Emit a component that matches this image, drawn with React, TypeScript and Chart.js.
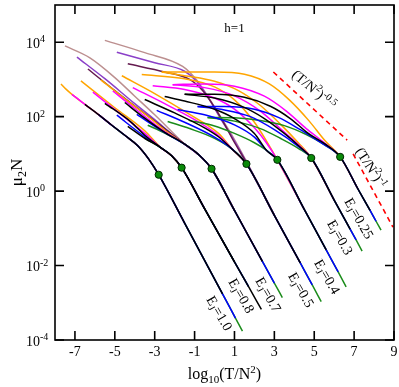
import React, { useEffect, useRef } from "react";
import { Chart, registerables } from "chart.js";

Chart.register(...registerables);

type Pt = [number, number]; // [log10(T/N^2), log10(mu2 N)]
type Branch = [string, Pt[], number]; // colour key, own points before joining the family curve, last x drawn

const X_MIN = -8;
const X_MAX = 9;
const Y_MIN_EXP = -4;
const Y_MAX_EXP = 5;
const X_TICKS = [-7, -5, -3, -1, 1, 3, 5, 7, 9];
const Y_TICK_EXPONENTS = [-4, -2, 0, 2, 4];

const EJ_LABELS = ["1.0", "0.8", "0.7", "0.5", "0.4", "0.3", "0.25"];
const EJ_LABEL_X = [0.25, 1.35, 2.7, 4.35, 5.65, 6.3, 7.25];
const EJ_LABEL_LOGY = [-3.28, -2.81, -2.78, -2.65, -2.3, -1.24, -0.73];

const DOT_X = [-2.8, -1.65, -0.15, 1.6, 3.15, 4.85, 6.3];
const DOT_LOGY = [0.44, 0.63, 0.6, 0.73, 0.84, 0.89, 0.92];

const SLOPE_HALF: Pt[] = [[2.95, 3.2], [6.65, 1.37]];
const SLOPE_ONE: Pt[] = [[6.95, 1.0], [8.95, -0.97]];
const SLOPE_HALF_LABEL: Pt = [5.0, 2.73];
const SLOPE_ONE_LABEL: Pt = [7.85, 0.63];
const H_LABEL: Pt = [1.0, 4.4];

// E_J = 1.0
const MASTER_1: Pt[] = [[-7.15, 2.6], [-6.5, 2.33], [-5.8, 2.05], [-5.15, 1.77], [-4.5, 1.5], [-3.85, 1.22], [-3.3, 0.86], [-2.8, 0.44], [-1.5, -0.86], [0.4, -2.76], [1.05, -3.41], [1.4, -3.76]];
const BRANCHES_1: Branch[] = [
  ["or", [[-7.7, 2.88], [-7.45, 2.74]], -2.8],
  ["mg", [], -1.5],
  ["bk", [[-6.5, 2.33]], 0.4],
  ["bl", [[-5.8, 2.05]], 1.05],
  ["gr", [[-5.15, 1.77]], 1.4],
];

// E_J = 0.8
const MASTER_2: Pt[] = [[-4.35, 1.74], [-3.5, 1.42], [-2.7, 1.17], [-2.15, 0.95], [-1.65, 0.63], [-0.5, -0.47], [1.0, -1.9], [1.7, -2.56], [2.35, -3.18]];
const BRANCHES_2: Branch[] = [
  ["or", [[-6.7, 2.96], [-5.0, 2.24], [-3.5, 1.62]], -1.65],
  ["mg", [[-6.1, 2.66], [-4.6, 2.02], [-3.5, 1.55]], -0.5],
  ["bk", [[-5.5, 2.36], [-4.2, 1.86], [-3.5, 1.5]], 2.35],
  ["bl", [[-4.9, 2.04], [-3.5, 1.46]], 1.7],
  ["bk", [], 1.0],
  ["gr", [[-3.5, 1.42]], 1.7],
];

// E_J = 0.7
const MASTER_3: Pt[] = [[-3.35, 1.77], [-2.5, 1.56], [-1.5, 1.26], [-0.8, 0.98], [-0.15, 0.6], [1.0, -0.52], [2.4, -1.89], [3.0, -2.47], [3.4, -2.86]];
const BRANCHES_3: Branch[] = [
  ["br", [[-7.5, 3.9], [-6.25, 3.58], [-5.0, 3.05], [-4.0, 2.55], [-3.0, 2.05], [-2.0, 1.52]], 1.0],
  ["pu", [[-6.9, 3.6], [-5.5, 3.02], [-4.0, 2.35], [-3.0, 1.92], [-2.0, 1.47]], 1.0],
  ["ma", [[-6.35, 3.28], [-5.0, 2.7], [-3.5, 2.08], [-2.5, 1.68]], 1.0],
  ["or", [[-5.7, 2.99], [-4.5, 2.48], [-3.2, 1.95], [-2.5, 1.64]], 1.0],
  ["mg", [[-5.1, 2.69], [-4.0, 2.22], [-2.5, 1.6]], 2.4],
  ["bk", [[-4.5, 2.38], [-3.5, 1.96], [-2.5, 1.58]], 2.4],
  ["bl", [[-3.9, 2.06], [-2.5, 1.57]], 3.0],
  ["gr", [], 3.4],
];

// E_J = 0.5
const MASTER_4: Pt[] = [[-2.35, 1.87], [-1.25, 1.68], [0.0, 1.42], [0.9, 1.12], [1.6, 0.73], [3.0, -0.65], [4.3, -1.93], [4.9, -2.52], [5.35, -2.97]];
const BRANCHES_4: Branch[] = [
  ["br", [[-5.5, 4.05], [-3.5, 3.72], [-1.6, 3.35], [-1.0, 3.05], [-0.4, 2.6], [0.3, 2.0], [0.9, 1.48], [1.6, 0.8]], 3.0],
  ["pu", [[-4.9, 3.73], [-3.0, 3.45], [-1.5, 3.22], [-0.9, 2.95], [-0.3, 2.5], [0.3, 1.95], [0.9, 1.44], [1.6, 0.78]], 3.0],
  ["ma", [[-4.35, 3.42], [-2.5, 3.2], [-1.25, 3.0], [-0.6, 2.7], [0.0, 2.25], [0.5, 1.8], [0.9, 1.4], [1.6, 0.76]], 3.0],
  ["or", [[-4.65, 3.1], [-3.0, 2.62], [-1.25, 2.06], [0.2, 1.55]], 3.0],
  ["mg", [[-4.1, 2.78], [-2.5, 2.35], [-1.0, 1.92], [0.2, 1.49]], 4.3],
  ["bk", [[-3.5, 2.46], [-2.0, 2.1], [-0.5, 1.7], [0.2, 1.46]], 4.3],
  ["bl", [[-2.9, 2.17], [-1.5, 1.85], [0.0, 1.45]], 4.9],
  ["gr", [], 5.35],
];

// E_J = 0.4
const MASTER_5: Pt[] = [[-1.3, 1.9], [0.0, 1.75], [1.0, 1.55], [2.0, 1.3], [2.6, 1.1], [3.15, 0.84], [4.5, -0.49], [5.6, -1.58], [6.2, -2.17], [6.6, -2.57]];
const BRANCHES_5: Branch[] = [
  ["or", [[-3.65, 3.13], [-1.5, 3.02], [0.0, 2.8], [1.0, 2.45], [2.0, 1.85], [2.6, 1.35]], 4.5],
  ["mg", [[-3.1, 2.83], [-1.5, 2.73], [0.0, 2.5], [1.0, 2.2], [2.0, 1.7], [2.6, 1.3]], 4.5],
  ["bk", [[-2.5, 2.54], [-1.5, 2.42], [0.0, 2.2], [1.0, 1.95], [2.0, 1.55]], 5.6],
  ["bl", [[-1.85, 2.19], [-0.5, 2.05], [1.0, 1.78], [2.0, 1.45]], 6.2],
  ["gr", [], 6.6],
];

// E_J = 0.3
const MASTER_6: Pt[] = [[-0.35, 1.98], [1.0, 1.88], [2.3, 1.68], [3.3, 1.42], [4.2, 1.15], [4.85, 0.89], [6.0, -0.24], [6.8, -1.02], [7.1, -1.31], [7.4, -1.61]];
const BRANCHES_6: Branch[] = [
  ["or", [[-2.65, 3.2], [-1.5, 3.1], [0.0, 2.95], [1.2, 2.7], [2.3, 2.3], [3.3, 1.8], [4.2, 1.3]], 6.0],
  ["mg", [[-2.1, 2.86], [-0.5, 2.78], [1.0, 2.56], [2.3, 2.15], [3.3, 1.68], [4.2, 1.25]], 6.0],
  ["bk", [[-1.5, 2.6], [0.0, 2.5], [1.4, 2.27], [2.5, 1.95], [3.5, 1.55], [4.3, 1.18]], 6.8],
  ["bl", [[-0.85, 2.27], [0.5, 2.18], [1.8, 2.0], [3.0, 1.65], [4.2, 1.2]], 7.1],
  ["gr", [], 7.4],
];

// E_J = 0.25
const MASTER_7: Pt[] = [[-0.35, 1.98], [1.0, 1.97], [2.3, 1.9], [3.5, 1.76], [4.6, 1.52], [5.5, 1.25], [6.3, 0.92], [7.2, 0.05], [7.8, -0.52], [8.1, -0.81], [8.35, -1.05]];
const BRANCHES_7: Branch[] = [
  ["or", [[-2.65, 3.2], [-1.5, 3.2], [0.0, 3.2], [1.5, 3.14], [2.75, 2.88], [3.75, 2.45], [4.75, 1.88], [5.5, 1.38]], 7.2],
  ["mg", [[-2.1, 2.86], [-0.5, 2.88], [1.0, 2.82], [2.5, 2.55], [3.6, 2.15], [4.6, 1.68], [5.5, 1.3]], 7.2],
  ["bk", [[-1.5, 2.6], [0.0, 2.6], [1.5, 2.52], [2.8, 2.28], [3.8, 1.95], [4.7, 1.55], [5.5, 1.28]], 7.8],
  ["bl", [[-0.85, 2.27], [0.5, 2.27], [2.0, 2.2], [3.2, 1.98], [4.3, 1.65], [5.2, 1.35]], 8.1],
  ["gr", [], 8.35],
];

const FAMILIES: [Pt[], Branch[]][] = [
  [MASTER_1, BRANCHES_1],
  [MASTER_2, BRANCHES_2],
  [MASTER_3, BRANCHES_3],
  [MASTER_4, BRANCHES_4],
  [MASTER_5, BRANCHES_5],
  [MASTER_6, BRANCHES_6],
  [MASTER_7, BRANCHES_7],
];

const COLORS: Record<string, string> = {
  br: "#bc8f8f",
  pu: "#8a3fc8",
  ma: "#641a4e",
  or: "#ffa500",
  mg: "#ff00ff",
  gr: "#1b8c1b",
  bl: "#0000ff",
  bk: "#000000",
};
// bottom to top
const DRAW_ORDER = ["br", "pu", "ma", "or", "mg", "gr", "bl", "bk"];

const FONT = '"Liberation Serif", "Times New Roman", "DejaVu Serif", serif';
type Part = [string, number, number]; // text, font size, baseline shift (down +)

function drawRich(ctx: CanvasRenderingContext2D, parts: Part[], cx: number, cy: number, angle: number, align: "center" | "left", mainSize: number) {
  ctx.save();
  ctx.translate(cx, cy);
  ctx.rotate(angle);
  ctx.textAlign = "left";
  ctx.textBaseline = "alphabetic";
  ctx.fillStyle = "#000";
  const widths = parts.map(([t, s]) => {
    ctx.font = `${s}px ${FONT}`;
    return ctx.measureText(t).width;
  });
  const total = widths.reduce((a, b) => a + b, 0);
  let x = align === "center" ? -total / 2 : 0;
  const base = mainSize * 0.33;
  parts.forEach(([t, s, dy], i) => {
    ctx.font = `${s}px ${FONT}`;
    ctx.fillText(t, x, base + dy);
    x += widths[i];
  });
  ctx.restore();
}

const toXY = (pts: Pt[]) => pts.map(([x, ly]) => ({ x, y: Math.pow(10, ly) }));

function buildDatasets() {
  const lines: { key: string; data: { x: number; y: number }[] }[] = [];
  FAMILIES.forEach(([master, branches]) => {
    branches.forEach(([key, own, end]) => {
      const last = own.length ? own[own.length - 1][0] : -Infinity;
      const pts = [...own, ...master.filter((p) => p[0] > last + 0.01 && p[0] <= end + 1e-6)];
      lines.push({ key, data: toXY(pts) });
    });
  });
  const sorted: any[] = [];
  DRAW_ORDER.forEach((key) => {
    lines.filter((l) => l.key === key).forEach((l) => {
      sorted.push({
        data: l.data,
        showLine: true,
        borderColor: COLORS[key],
        borderWidth: 1.5,
        pointRadius: 0,
        fill: false,
        cubicInterpolationMode: "monotone",
      });
    });
  });
  const dashed = [SLOPE_HALF, SLOPE_ONE].map((seg) => ({
    data: toXY(seg),
    showLine: true,
    borderColor: "#ff0000",
    borderWidth: 1.6,
    borderDash: [5, 4],
    pointRadius: 0,
    fill: false,
  }));
  const dots = {
    data: DOT_X.map((x, i) => ({ x, y: Math.pow(10, DOT_LOGY[i]) })),
    showLine: false,
    pointRadius: 3.6,
    pointBackgroundColor: "#0a8a0a",
    pointBorderColor: "#002800",
    pointBorderWidth: 1,
  };
  // Chart.js draws the first dataset on top
  return [dots, ...dashed, ...sorted.reverse()];
}

const decorPlugin = {
  id: "decor",
  afterDraw(chart: any) {
    const ctx: CanvasRenderingContext2D = chart.ctx;
    const { left, right, top, bottom } = chart.chartArea;
    const xs = chart.scales.x;
    const ys = chart.scales.y;
    const px = (x: number) => xs.getPixelForValue(x);
    const py = (ly: number) => ys.getPixelForValue(Math.pow(10, ly));
    ctx.save();
    ctx.strokeStyle = "#000";
    ctx.lineWidth = 1.6;
    ctx.strokeRect(left, top, right - left, bottom - top);
    const TL = 9;
    ctx.beginPath();
    X_TICKS.forEach((t) => {
      const x = px(t);
      ctx.moveTo(x, bottom);
      ctx.lineTo(x, bottom - TL);
      ctx.moveTo(x, top);
      ctx.lineTo(x, top + TL);
    });
    Y_TICK_EXPONENTS.forEach((e) => {
      const y = py(e);
      ctx.moveTo(left, y);
      ctx.lineTo(left + TL, y);
      ctx.moveTo(right, y);
      ctx.lineTo(right - TL, y);
    });
    ctx.stroke();
    ctx.restore();

    X_TICKS.forEach((t) => {
      drawRich(ctx, [[String(t), 14, 0]], px(t), bottom + 11.5, 0, "center", 14);
    });
    Y_TICK_EXPONENTS.forEach((e) => {
      drawRich(ctx, [["10", 14, 0], [String(e), 10, -5.5]], left - 29, py(e) + 1, 0, "left", 14);
    });
    drawRich(ctx, [["log", 16, 0], ["10", 11, 4], ["(T/N", 16, 0], ["2", 11, -6.5], [")", 16, 0]], (left + right) / 2, bottom + 34, 0, "center", 16);
    drawRich(ctx, [["\u03bc", 17, 0], ["2", 12, 4], ["N", 17, 0]], 16, (top + bottom) / 2, -Math.PI / 2, "center", 17);

    drawRich(ctx, [["h=1", 13, 0]], px(H_LABEL[0]), py(H_LABEL[1]), 0, "center", 13);
    drawRich(ctx, [["(T/N", 14, 0], ["2", 10, -6], [")", 14, 0], ["-0.5", 10, -5]], px(SLOPE_HALF_LABEL[0]), py(SLOPE_HALF_LABEL[1]), (40 * Math.PI) / 180, "center", 14);
    drawRich(ctx, [["(T/N", 14, 0], ["2", 10, -6], [")", 14, 0], ["-1", 10, -5]], px(SLOPE_ONE_LABEL[0]), py(SLOPE_ONE_LABEL[1]), (57 * Math.PI) / 180, "center", 14);

    EJ_LABELS.forEach((lab, i) => {
      drawRich(ctx, [["E", 14, 0], ["J", 10, 3], ["=" + lab, 14, 0]], px(EJ_LABEL_X[i]), py(EJ_LABEL_LOGY[i]), (60 * Math.PI) / 180, "center", 14);
    });
  },
};

export default function App() {
  const ref = useRef<HTMLCanvasElement | null>(null);
  useEffect(() => {
    if (!ref.current) return;
    const chart = new Chart(ref.current, {
      type: "scatter",
      data: { datasets: buildDatasets() as any },
      options: {
        animation: false,
        responsive: true,
        maintainAspectRatio: false,
        layout: { padding: { left: 55, right: 5, top: 2, bottom: 47 } },
        plugins: { legend: { display: false }, tooltip: { enabled: false } },
        scales: {
          x: { type: "linear", min: X_MIN, max: X_MAX, display: false },
          y: { type: "logarithmic", min: Math.pow(10, Y_MIN_EXP), max: Math.pow(10, Y_MAX_EXP), display: false },
        },
      },
      plugins: [decorPlugin],
    });
    return () => chart.destroy();
  }, []);
  return (
    <div style={{ position: "fixed", left: 0, top: 0, width: 399, height: 387, background: "#fff" }}>
      <canvas ref={ref} />
    </div>
  );
}
